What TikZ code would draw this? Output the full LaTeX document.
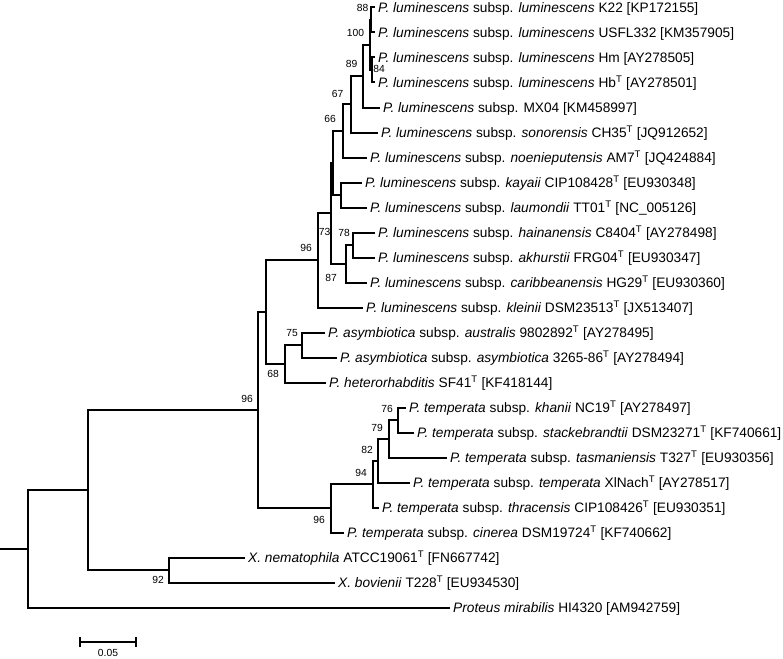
\documentclass[tikz,border=0pt]{standalone}
\usepackage{fontspec}
\setmainfont{Liberation Sans}
\newcommand{\supT}{\textsuperscript{T}}
\begin{document}
\begin{tikzpicture}[x=1pt,y=-1pt,
  br/.style={line width=2pt},
  tip/.style={anchor=west,inner xsep=3pt,inner ysep=0pt,text height=9.8pt,text depth=0pt,font=\fontsize{13.7}{15}\selectfont},
  bs/.style={font=\fontsize{10.3}{12}\selectfont,inner sep=0pt}]
\useasboundingbox (0,0) rectangle (783,658);
% internal nodes
\coordinate (stub) at (0,548.8);
\coordinate (root) at (28,548.8);
\coordinate (nA) at (88,490.1);
\coordinate (nPh) at (258,410.2);
\coordinate (nX) at (169,570);
\coordinate (nLA) at (266,312.1);
\coordinate (nKl) at (318,260.4);
\coordinate (n73) at (331,213.4);
\coordinate (nM) at (333,163);
\coordinate (n66) at (343,130.9);
\coordinate (n67) at (351,104.4);
\coordinate (n89) at (363,76.25);
\coordinate (n100) at (370,45);
\coordinate (n88) at (371,20);
\coordinate (n84) at (372,70);
\coordinate (nKL) at (341,195);
\coordinate (n87) at (346,263.75);
\coordinate (n78) at (353,245);
\coordinate (n68) at (285,363.75);
\coordinate (n75) at (302,345);
\coordinate (n96t) at (331,508.3);
\coordinate (n94) at (373,484);
\coordinate (n82) at (378,460.6);
\coordinate (n79) at (389,438.75);
\coordinate (n76) at (398,420);
% tips
\node[tip] (t1) at (375,7.5) {\textit{P. luminescens} subsp. \textit{luminescens} K22 [KP172155]};
\node[tip] (t2) at (375,32.5) {\textit{P. luminescens} subsp. \textit{luminescens} USFL332 [KM357905]};
\node[tip] (t3) at (375,57.5) {\textit{P. luminescens} subsp. \textit{luminescens} Hm [AY278505]};
\node[tip] (t4) at (375,82.5) {\textit{P. luminescens} subsp. \textit{luminescens} Hb\supT{} [AY278501]};
\node[tip] (t5) at (380,107.5) {\textit{P. luminescens} subsp. MX04 [KM458997]};
\node[tip] (t6) at (378,132.5) {\textit{P. luminescens} subsp. \textit{sonorensis} CH35\supT{} [JQ912652]};
\node[tip] (t7) at (367,157.5) {\textit{P. luminescens} subsp. \textit{noenieputensis} AM7\supT{} [JQ424884]};
\node[tip] (t8) at (362,182.5) {\textit{P. luminescens} subsp. \textit{kayaii} CIP108428\supT{} [EU930348]};
\node[tip] (t9) at (367,207.5) {\textit{P. luminescens} subsp. \textit{laumondii} TT01\supT{} [NC\_005126]};
\node[tip] (t10) at (375,232.5) {\textit{P. luminescens} subsp. \textit{hainanensis} C8404\supT{} [AY278498]};
\node[tip] (t11) at (375,257.5) {\textit{P. luminescens} subsp. \textit{akhurstii} FRG04\supT{} [EU930347]};
\node[tip] (t12) at (367,282.5) {\textit{P. luminescens} subsp. \textit{caribbeanensis} HG29\supT{} [EU930360]};
\node[tip] (t13) at (363,307.5) {\textit{P. luminescens} subsp. \textit{kleinii} DSM23513\supT{} [JX513407]};
\node[tip] (t14) at (325,332.5) {\textit{P. asymbiotica} subsp. \textit{australis} 9802892\supT{} [AY278495]};
\node[tip] (t15) at (337,357.5) {\textit{P. asymbiotica} subsp. \textit{asymbiotica} 3265-86\supT{} [AY278494]};
\node[tip] (t16) at (326,382.5) {\textit{P. heterorhabditis} SF41\supT{} [KF418144]};
\node[tip] (t17) at (406,407.5) {\textit{P. temperata} subsp. \textit{khanii} NC19\supT{} [AY278497]};
\node[tip] (t18) at (414,432.5) {\textit{P. temperata} subsp. \textit{stackebrandtii} DSM23271\supT{} [KF740661]};
\node[tip] (t19) at (447,457.5) {\textit{P. temperata} subsp. \textit{tasmaniensis} T327\supT{} [EU930356]};
\node[tip] (t20) at (410,482.5) {\textit{P. temperata} subsp. \textit{temperata} XlNach\supT{} [AY278517]};
\node[tip] (t21) at (379,507.5) {\textit{P. temperata} subsp. \textit{thracensis} CIP108426\supT{} [EU930351]};
\node[tip] (t22) at (344,532.5) {\textit{P. temperata} subsp. \textit{cinerea} DSM19724\supT{} [KF740662]};
\node[tip] (t23) at (245,557.5) {\textit{X. nematophila} ATCC19061\supT{} [FN667742]};
\node[tip] (t24) at (335,582.5) {\textit{X. bovienii} T228\supT{} [EU934530]};
\node[tip] (t25) at (450,607.5) {\textit{Proteus mirabilis} HI4320 [AM942759]};
% branches
\draw[br] (stub) -- (root);
\draw[br] (root) |- (nA);
\draw[br] (root) |- (t25.west);
\draw[br] (nA) |- (nPh);
\draw[br] (nA) |- (nX);
\draw[br] (nX) |- (t23.west);
\draw[br] (nX) |- (t24.west);
\draw[br] (nPh) |- (nLA);
\draw[br] (nPh) |- (n96t);
\draw[br] (nLA) |- (nKl);
\draw[br] (nLA) |- (n68);
\draw[br] (nKl) |- (n73);
\draw[br] (nKl) |- (t13.west);
\draw[br] (n73) |- (nM);
\draw[br] (n73) |- (n87);
\draw[br] (nM) |- (n66);
\draw[br] (nM) |- (nKL);
\draw[br] (n66) |- (n67);
\draw[br] (n66) |- (t7.west);
\draw[br] (n67) |- (n89);
\draw[br] (n67) |- (t6.west);
\draw[br] (n89) |- (n100);
\draw[br] (n89) |- (t5.west);
\draw[br] (n100) |- (n88);
\draw[br] (n100) |- (n84);
\draw[br] (n88) |- (t1.west);
\draw[br] (n88) |- (t2.west);
\draw[br] (n84) |- (t3.west);
\draw[br] (n84) |- (t4.west);
\draw[br] (nKL) |- (t8.west);
\draw[br] (nKL) |- (t9.west);
\draw[br] (n87) |- (n78);
\draw[br] (n87) |- (t12.west);
\draw[br] (n78) |- (t10.west);
\draw[br] (n78) |- (t11.west);
\draw[br] (n68) |- (n75);
\draw[br] (n68) |- (t16.west);
\draw[br] (n75) |- (t14.west);
\draw[br] (n75) |- (t15.west);
\draw[br] (n96t) |- (n94);
\draw[br] (n96t) |- (t22.west);
\draw[br] (n94) |- (n82);
\draw[br] (n94) |- (t21.west);
\draw[br] (n82) |- (n79);
\draw[br] (n82) |- (t20.west);
\draw[br] (n79) |- (n76);
\draw[br] (n79) |- (t19.west);
\draw[br] (n76) |- (t17.west);
\draw[br] (n76) |- (t18.west);
% bootstrap values
\node[bs] (b88) at (362.5,8.3) {88};
\node[bs] (b100) at (355.5,33) {100};
\node[bs] (b84) at (379,69) {84};
\node[bs] (b89) at (351.5,64) {89};
\node[bs] (b67) at (337.5,94) {67};
\node[bs] (b66) at (330,119) {66};
\node[bs] (b73) at (324.5,232) {73};
\node[bs] (b78) at (344,233) {78};
\node[bs] (b87) at (331,278) {87};
\node[bs] (b96a) at (306,248) {96};
\node[bs] (b75) at (292,333) {75};
\node[bs] (b68) at (273,374) {68};
\node[bs] (b96b) at (247,399) {96};
\node[bs] (b76) at (387,409) {76};
\node[bs] (b79) at (377,428) {79};
\node[bs] (b82) at (367,450) {82};
\node[bs] (b94) at (361,473) {94};
\node[bs] (b96c) at (319,520) {96};
\node[bs] (b92) at (158,580) {92};
% scale bar
\coordinate (sa) at (80,642);
\coordinate (sb) at (136,642);
\draw[br] (sa) -- (sb);
\draw[br] ([yshift=-5pt]sa) -- ([yshift=5pt]sa);
\draw[br] ([yshift=-5pt]sb) -- ([yshift=5pt]sb);
\node[bs] (sl) at (108,653) {0.05};
\end{tikzpicture}
\end{document}
